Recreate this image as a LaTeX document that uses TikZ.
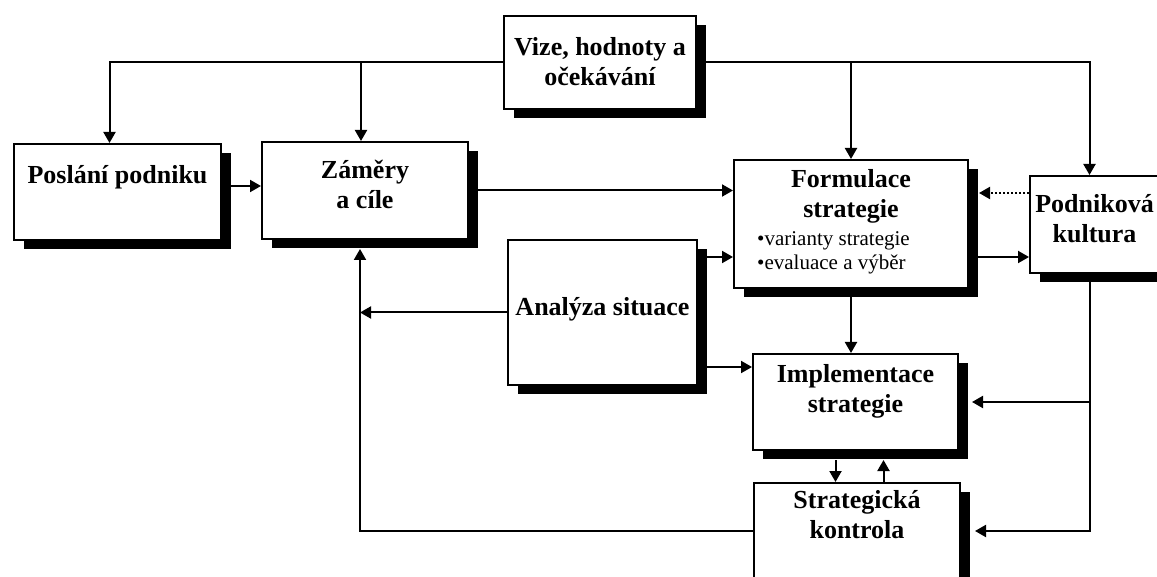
\documentclass[tikz,border=0pt]{standalone}
\usepackage{fontspec}
\setmainfont{Liberation Serif}
\usetikzlibrary{arrows.meta, positioning, shadows}

\tikzset{
  box/.style={draw, line width=2pt, fill=white, anchor=north west, inner sep=0pt,
    general shadow={fill=black, shadow xshift=10pt, shadow yshift=-9pt}},
  lbl/.style={align=center, inner sep=0pt, font=\bfseries\fontsize{26}{30}\selectfont},
  bul/.style={align=left, inner sep=0pt, font=\fontsize{21}{24}\selectfont},
  arr/.style={line width=2pt, -{Triangle[length=11pt,width=12pt]}},
  dotline/.style={dash pattern=on 2pt off 2pt}
}

\begin{document}
\begin{tikzpicture}[x=1pt, y=-1pt]
    \useasboundingbox (0,0) rectangle (1157,577);
    % boxes
    \node[box, minimum width=192pt, minimum height=93pt] (vize) at (503,15) {};
    \node[box, minimum width=207pt, minimum height=96pt] (posl) at (13,143) {};
    \node[box, minimum width=206pt, minimum height=97pt] (zam) at (261,141) {};
    \node[box, minimum width=234pt, minimum height=128pt] (form) at (733,159) {};
    \node[box, minimum width=129pt, minimum height=97pt] (podn) at (1029,175) {};
    \node[box, minimum width=189pt, minimum height=145pt] (anal) at (507,239) {};
    \node[box, minimum width=205pt, minimum height=96pt] (impl) at (752,353) {};
    \node[box, minimum width=206pt, minimum height=96pt] (kontr) at (753,482) {};
    % texts
    \node[lbl, below=19pt of vize.north] (vizet) {\strut Vize, hodnoty a\\očekávání};
    \node[lbl, below=19pt of posl.north] (poslt) {\strut Poslání podniku};
    \node[lbl, below=16pt of zam.north] (zamt) {\strut Záměry\\a cíle};
    \node[lbl, below=7pt of form.north] (formt) {\strut Formulace\\strategie};
    \node[bul, below right=70pt and 24pt of form.north west] (formb)
        {\strut\textbullet varianty strategie\\\textbullet evaluace a výběr};
    \node[lbl, below=16pt of podn.north] (podnt) {\strut Podniková\\kultura};
    \node[lbl, below=55pt of anal.north] (analt) {\strut Analýza situace};
    \node[lbl, below=8pt of impl.north] (implt) {\strut Implementace\\strategie};
    \node[lbl, below=5pt of kontr.north] (kontrt) {\strut Strategická\\kontrola};
    % helper points
    \coordinate (zb) at ([xshift=-5pt,yshift=-9pt]zam.south);
    \coordinate (i1) at ([yshift=35pt]impl.west);
    \coordinate (ik) at ([xshift=-20pt]impl.south);
    \coordinate (ki) at ([xshift=28pt]impl.south);
    \coordinate (pk) at ([xshift=-4.5pt]podn.south);
    % from vision
    \draw[arr] (vize.west) -| ([xshift=-8pt]posl.north);
    \draw[arr] (vize.west) -| ([xshift=-4pt]zam.north);
    \draw[arr] (vize.east) -| (form.north);
    \draw[arr] (vize.east) -| ([xshift=-5pt]podn.north);
    % mission, goals, strategy
    \draw[arr] ([yshift=6pt]posl.east) coordinate (p1) -- (p1 -| zam.west);
    \draw[arr] (zam.east) -- (zam.east -| form.west);
    \draw[arr, dotline] ([yshift=31.5pt]podn.west) coordinate (d1) -- ([xshift=10pt]d1 -| form.east);
    \draw[arr] ([yshift=-33pt]form.east) coordinate (f1) -- (f1 -| podn.west);
    % analysis
    \draw[arr] (f1 -| anal.east) -- (f1 -| form.west);
    \draw[arr] (i1 -| anal.east) -- (i1);
    \draw[arr] (anal.west) -- (anal.west -| zb);
    % implementation and control
    \draw[arr] (form.south) -- (form.south |- impl.north);
    \draw[arr] ([yshift=-9pt]ik) -- (ik |- kontr.north);
    \draw[arr] (ki |- kontr.north) -- ([yshift=-9pt]ki);
    \draw[arr] (kontr.west) -| (zb);
    % culture
    \draw[arr] (pk) |- ([xshift=13pt]impl.east);
    \draw[arr] (pk) |- ([xshift=14pt]kontr.east);
\end{tikzpicture}
\end{document}
